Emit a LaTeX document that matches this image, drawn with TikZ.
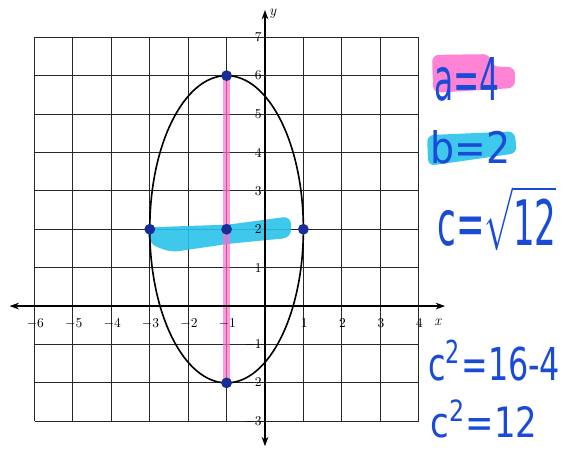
\documentclass[tikz,border=0pt]{standalone}
\usepackage{fontspec}
\usepackage{graphicx}
\newfontfamily\hand{DejaVu Sans}
\usetikzlibrary{arrows.meta}
\definecolor{ink}{RGB}{25,75,215}
\definecolor{dotc}{RGB}{25,45,150}
\definecolor{hlpink}{RGB}{255,110,205}
\definecolor{hlcyan}{RGB}{40,195,235}
\begin{document}
\begin{tikzpicture}[x=1cm,y=1cm,
  gridline/.style={line width=0.75pt, black!85},
  axisline/.style={line width=0.9pt, {Stealth[length=7pt,width=5pt]}-{Stealth[length=7pt,width=5pt]}},
  ticklab/.style={font=\fontsize{10}{10}\selectfont, inner sep=0pt},
  pt/.style={circle, fill=dotc, inner sep=0pt, minimum size=8pt},
  hw/.style={anchor=base west, inner sep=0pt, text=ink, font=\hand}]
\useasboundingbox (-6.90,-3.70) rectangle (7.76,7.97);
\fill[white] (-6.90,-3.70) rectangle (7.76,7.97);
% grid
\draw[gridline] (-6,-3) grid (4,7);
% highlights on graph
\fill[hlcyan, opacity=0.9, rounded corners=6pt]
  (-3.07,2.05) -- (-0.96,2.12) -- (0.68,2.34) -- (0.68,1.78) -- (-0.96,1.62) -- (-2.45,1.40) -- (-3.02,1.62) -- cycle;
\draw[hlpink, opacity=0.7, line width=4.8pt] (-1,6) -- (-1,-2);
% axes
\draw[axisline] (-6.65,0) -- (4.69,0);
\draw[axisline] (0,-3.65) -- (0,7.71);
\node[font=\itshape\fontsize{11}{11}\selectfont] (ylab) at (0.20,7.62) {y};
\node[font=\itshape\fontsize{11}{11}\selectfont] (xlab) at (4.50,-0.42) {x};
% tick labels
\foreach \i in {-6,-5,-4,-3,-2,-1,1,2,3,4}
  \node[ticklab] (xt\i) at (\i+0.02,-0.45) {\ifnum\i<0 $-$\the\numexpr-\i\relax\else\i\fi};
\foreach \j in {-3,-2,-1,1,2,3,4,5,6,7}
  \node[ticklab, anchor=east] (yt\j) at (-0.08,\j) {\ifnum\j<0 $-$\the\numexpr-\j\relax\else\j\fi};
% ellipse
\draw[line width=1.2pt] (-1,2) ellipse (2 and 4);
% points
\node[pt] (vtop) at (-1,6) {};
\node[pt] (vbot) at (-1,-2) {};
\node[pt] (ctr) at (-1,2) {};
\node[pt] (cleft) at (-3,2) {};
\node[pt] (cright) at (1,2) {};
% right-side highlights
\fill[hlpink, opacity=0.85, rounded corners=5pt]
  (4.35,6.54) -- (5.86,6.56) -- (5.90,6.24) -- (6.51,6.22) -- (6.51,5.68) -- (4.38,5.55) -- cycle;
\fill[hlcyan, opacity=0.9, rounded corners=5pt]
  (4.22,4.45) -- (6.50,4.55) -- (6.56,3.98) -- (4.25,3.65) -- cycle;
% handwritten notes
\node[hw] (na) at (4.40,5.36) {\resizebox{1.70cm}{1.12cm}{a=4}};
\node[hw] (nb) at (4.30,3.72) {\resizebox{2.08cm}{0.86cm}{b=2}};
\node[hw] (nc) at (4.48,1.59) {\resizebox{3.10cm}{1.56cm}{c=$\sqrt{\mbox{\hand 12}}$}};
\node[hw] (nc2) at (4.24,-1.93) {\resizebox{3.44cm}{1.04cm}{c\textsuperscript{2}=16-4}};
\node[hw] (nc3) at (4.30,-3.41) {\resizebox{2.79cm}{0.96cm}{c\textsuperscript{2}=12}};
\end{tikzpicture}
\end{document}
